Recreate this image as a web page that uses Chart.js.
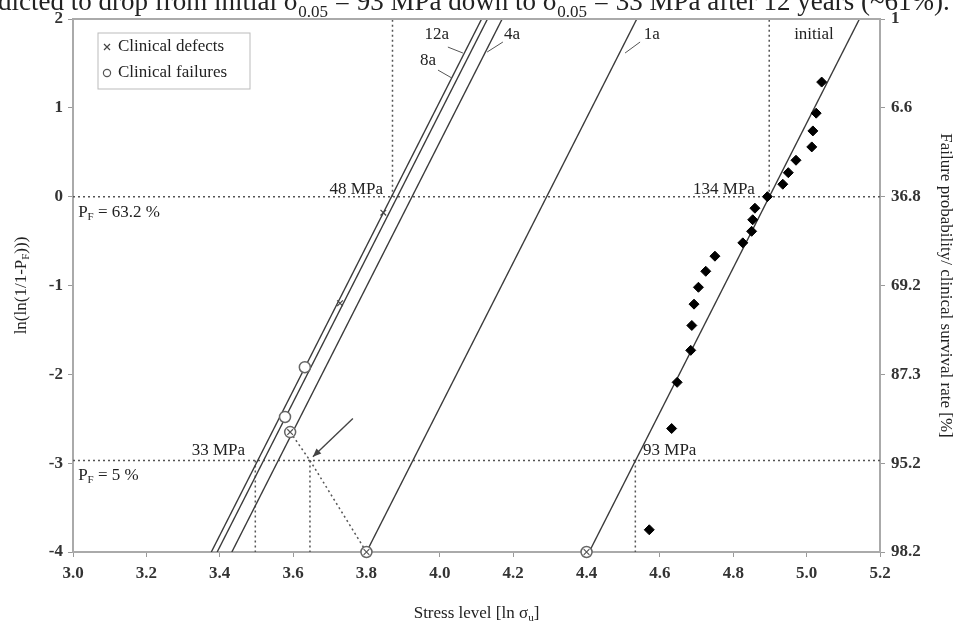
<!DOCTYPE html>
<html>
<head>
<meta charset="utf-8">
<script src="https://cdn.jsdelivr.net/npm/chart.js@4.4.0/dist/chart.umd.min.js"></script>
<style>
  html, body { margin: 0; padding: 0; background: #fff; }
  #wrap { width: 963px; height: 630px; }
</style>
</head>
<body>
<div id="wrap"><canvas id="graficoWeibull" width="963" height="630"></canvas></div>
<script>
// Pontos do ensaio inicial (ln sigma, ln(ln(1/(1-Pf))))
const initialX = [5.041, 5.026, 5.017, 5.014, 4.971, 4.950, 4.935, 4.893, 4.859, 4.853, 4.850, 4.826, 4.750, 4.725, 4.705, 4.693, 4.687, 4.684, 4.647, 4.632, 4.571];
const initialY = [1.29, 0.94, 0.74, 0.56, 0.41, 0.27, 0.14, 0.00, -0.13, -0.26, -0.39, -0.52, -0.67, -0.84, -1.02, -1.21, -1.45, -1.73, -2.09, -2.61, -3.75];

// Falhas clinicas (circulos) e defeitos clinicos (x)
const failuresX = [3.632, 3.578, 3.592, 3.80, 4.40];
const failuresY = [-1.92, -2.48, -2.65, -4, -4];
const crossedX = [3.592, 3.80, 4.40];
const crossedY = [-2.65, -4, -4];
const defectsX = [3.846, 3.728];
const defectsY = [-0.18, -1.20];

// Retas de Weibull: x em y = -4 e x em y = 2
const lineNames = ['12a', '8a', '4a', '1a', 'initial'];
const lineXStart = [3.377, 3.393, 3.433, 3.800, 4.407];
const lineXEnd = [4.114, 4.130, 4.170, 4.537, 5.144];
const lineYEnds = [-4, 2];

// Linhas de referencia pontilhadas [x1, y1, x2, y2]
const refSegments = [
    [3.0, 0, 5.2, 0],          // Pf = 63.2 %
    [3.0, -2.97, 5.2, -2.97],  // Pf = 5 %
    [3.871, 0, 3.871, 2],      // 48 MPa
    [4.898, 0, 4.898, 2],      // 134 MPa
    [4.533, -2.97, 4.533, -4], // 93 MPa
    [3.497, -2.97, 3.497, -4], // 33 MPa
    [3.646, -2.97, 3.646, -4],
    [3.592, -2.65, 3.646, -2.97],
    [3.646, -2.97, 3.800, -4]
];

const xTicks = [3.0, 3.2, 3.4, 3.6, 3.8, 4.0, 4.2, 4.4, 4.6, 4.8, 5.0, 5.2];
const yTicks = [2, 1, 0, -1, -2, -3, -4];
const survivalLabels = ['1', '6.6', '36.8', '69.2', '87.3', '95.2', '98.2'];

const SERIF = "'Liberation Serif', 'DejaVu Serif', serif";
const ink = '#222';

const toPoints = (xs, ys) => xs.map((v, i) => ({x: v, y: ys[i]}));

let datasets = [
    {
        label: 'initial data', data: toPoints(initialX, initialY),
        pointStyle: 'rectRot', pointRadius: 5, backgroundColor: '#000', borderColor: '#000', clip: false
    },
    {
        label: 'Clinical failures x', data: toPoints(crossedX, crossedY),
        pointStyle: 'crossRot', pointRadius: 4, borderColor: '#555', borderWidth: 1.2, clip: false
    },
    {
        label: 'Clinical failures', data: toPoints(failuresX, failuresY),
        pointStyle: 'circle', pointRadius: 5.5, backgroundColor: '#fff', borderColor: '#666', borderWidth: 1.5, clip: false
    },
    {
        label: 'Clinical defects', data: toPoints(defectsX, defectsY),
        pointStyle: 'crossRot', pointRadius: 4, borderColor: '#444', borderWidth: 1.2, clip: false
    }
];

for (let i = 0; i < lineNames.length; i++)
{
    datasets.push({
        label: lineNames[i],
        data: [{x: lineXStart[i], y: lineYEnds[0]}, {x: lineXEnd[i], y: lineYEnds[1]}],
        showLine: true, borderColor: '#3a3a3a', borderWidth: 1.4, pointRadius: 0
    });
}

refSegments.forEach(s => {
    datasets.push({
        label: 'ref',
        data: [{x: s[0], y: s[1]}, {x: s[2], y: s[3]}],
        showLine: true, borderColor: '#555', borderWidth: 1.5, borderDash: [2, 3], pointRadius: 0
    });
});

// texto com subscrito: partes = [[texto, subscrito?], ...]
function richText(ctx, parts, x, y, align, size) {
    const big = size + 'px ' + SERIF, small = Math.round(size * 0.62) + 'px ' + SERIF;
    let w = 0;
    parts.forEach(p => { ctx.font = p[1] ? small : big; w += ctx.measureText(p[0]).width; });
    let cx = align === 'right' ? x - w : (align === 'center' ? x - w / 2 : x);
    ctx.textAlign = 'left';
    parts.forEach(p => {
        ctx.font = p[1] ? small : big;
        ctx.fillText(p[0], cx, y + (p[1] ? size * 0.25 : 0));
        cx += ctx.measureText(p[0]).width;
    });
}

const notas = {
    id: 'notas',
    afterDatasetsDraw(chart) {
        const {ctx, chartArea: a, scales: {x, y}} = chart;
        const px = v => x.getPixelForValue(v), py = v => y.getPixelForValue(v);
        ctx.save();

        // moldura superior
        ctx.strokeStyle = '#aaa'; ctx.lineWidth = 2;
        ctx.beginPath(); ctx.moveTo(a.left, a.top); ctx.lineTo(a.right + 1, a.top); ctx.stroke();

        ctx.fillStyle = ink;
        ctx.textBaseline = 'middle';

        // rotulos de tensao
        richText(ctx, [['48 MPa']], px(3.845), py(0.08), 'right', 17);
        richText(ctx, [['134 MPa']], px(4.859), py(0.08), 'right', 17);
        richText(ctx, [['93 MPa']], px(4.554), py(-2.86), 'left', 17);
        richText(ctx, [['33 MPa']], px(3.469), py(-2.86), 'right', 17);
        richText(ctx, [['P'], ['F', true], [' = 63.2 %']], px(3.014), py(-0.18), 'left', 17);
        richText(ctx, [['P'], ['F', true], [' = 5 %']], px(3.014), py(-3.14), 'left', 17);

        // nomes das retas com linhas de chamada
        const tags = [
            ['12a', 3.992, 1.82, [4.022, 1.684, 4.063, 1.617]],
            ['8a', 3.968, 1.538, [3.995, 1.425, 4.033, 1.335]],
            ['4a', 4.197, 1.82, [4.172, 1.741, 4.129, 1.628]],
            ['1a', 4.578, 1.82, [4.546, 1.741, 4.505, 1.617]],
            ['initial', 5.020, 1.82, null]
        ];
        ctx.strokeStyle = '#555'; ctx.lineWidth = 1;
        tags.forEach(t => {
            richText(ctx, [[t[0]]], px(t[1]), py(t[2]), 'center', 17);
            if (t[3]) {
                ctx.beginPath();
                ctx.moveTo(px(t[3][0]), py(t[3][1]));
                ctx.lineTo(px(t[3][2]), py(t[3][3]));
                ctx.stroke();
            }
        });

        // seta
        const x1 = px(3.763), y1 = py(-2.498), x2 = px(3.654), y2 = py(-2.927);
        ctx.strokeStyle = '#444'; ctx.lineWidth = 1.4;
        ctx.beginPath(); ctx.moveTo(x1, y1); ctx.lineTo(x2, y2); ctx.stroke();
        const ang = Math.atan2(y2 - y1, x2 - x1);
        ctx.fillStyle = '#444';
        ctx.beginPath();
        ctx.moveTo(x2, y2);
        ctx.lineTo(x2 - 9 * Math.cos(ang - 0.4), y2 - 9 * Math.sin(ang - 0.4));
        ctx.lineTo(x2 - 9 * Math.cos(ang + 0.4), y2 - 9 * Math.sin(ang + 0.4));
        ctx.closePath(); ctx.fill();

        // legenda
        const lx = a.left + 25, ly = a.top + 14;
        ctx.strokeStyle = '#bbb'; ctx.lineWidth = 1;
        ctx.strokeRect(lx, ly, 152, 56);
        ctx.fillStyle = ink;
        richText(ctx, [['Clinical defects']], lx + 20, ly + 14, 'left', 17);
        richText(ctx, [['Clinical failures']], lx + 20, ly + 40, 'left', 17);
        ctx.strokeStyle = '#444'; ctx.lineWidth = 1.2;
        ctx.beginPath();
        ctx.moveTo(lx + 6, ly + 11); ctx.lineTo(lx + 12, ly + 17);
        ctx.moveTo(lx + 12, ly + 11); ctx.lineTo(lx + 6, ly + 17);
        ctx.stroke();
        ctx.strokeStyle = '#555';
        ctx.beginPath(); ctx.arc(lx + 9, ly + 40, 3.6, 0, Math.PI * 2); ctx.stroke();

        // titulos dos eixos
        ctx.fillStyle = ink;
        richText(ctx, [['Stress level [ln σ'], ['u', true], [']']], (a.left + a.right) / 2, 614, 'center', 17);

        ctx.save();
        ctx.translate(22, (a.top + a.bottom) / 2);
        ctx.rotate(-Math.PI / 2);
        richText(ctx, [['ln(ln(1/1-P'], ['F', true], [')))']], 0, 0, 'center', 17);
        ctx.restore();

        ctx.save();
        ctx.translate(945, (a.top + a.bottom) / 2);
        ctx.rotate(Math.PI / 2);
        richText(ctx, [['Failure probability/ clinical survival rate [%]']], 0, 0, 'center', 17);
        ctx.restore();

        // legenda da figura (cortada no topo)
        ctx.textBaseline = 'alphabetic';
        richText(ctx, [['dicted to drop from initial σ'], ['0.05', true], [' = 93 MPa down to σ'], ['0.05', true], [' = 33 MPa after 12 years (~61%).']], -2, 10, 'left', 27);

        ctx.restore();
    }
};

const tickFont = {family: SERIF, size: 17, weight: 'bold'};

new Chart(document.getElementById('graficoWeibull'), {
    type: 'scatter',
    data: {datasets: datasets},
    options: {
        responsive: false,
        animation: false,
        layout: {padding: {top: 19}},
        plugins: {legend: {display: false}, tooltip: {enabled: false}},
        scales: {
            x: {
                type: 'linear', min: 3.0, max: 5.2,
                afterBuildTicks: s => { s.ticks = xTicks.map(v => ({value: v})); },
                afterFit: s => { s.height = 78; },
                ticks: {autoSkip: false, maxRotation: 0, font: tickFont, color: '#333', padding: 6,
                    callback: v => Number(v).toFixed(1)},
                grid: {drawOnChartArea: false, tickLength: 5, color: '#999'},
                border: {color: '#aaa', width: 2}
            },
            y: {
                position: 'left', min: -4, max: 2,
                afterBuildTicks: s => { s.ticks = yTicks.map(v => ({value: v})); },
                afterFit: s => { s.width = 73; },
                ticks: {font: tickFont, color: '#333', padding: 5},
                grid: {drawOnChartArea: false, tickLength: 5, color: '#999'},
                border: {color: '#aaa', width: 2}
            },
            y2: {
                position: 'right', min: -4, max: 2,
                afterBuildTicks: s => { s.ticks = yTicks.map(v => ({value: v})); },
                afterFit: s => { s.width = 83; },
                ticks: {font: tickFont, color: '#333', padding: 6,
                    callback: v => survivalLabels[yTicks.indexOf(v)]},
                grid: {drawOnChartArea: false, tickLength: 5, color: '#999'},
                border: {color: '#aaa', width: 2}
            }
        }
    },
    plugins: [notas]
});
</script>
</body>
</html>
